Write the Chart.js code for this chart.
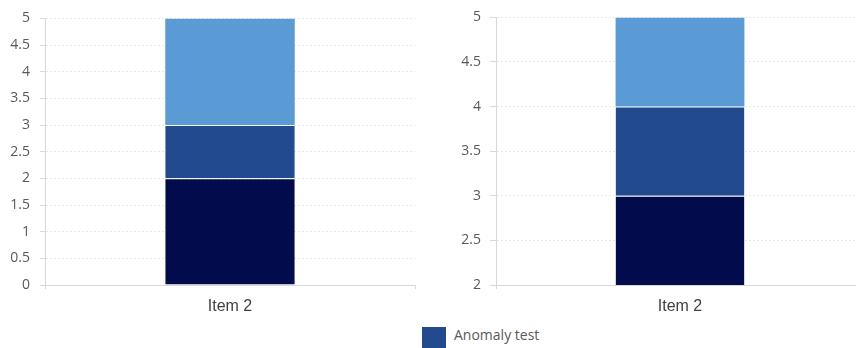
<!DOCTYPE html>
<html>
<head>
<meta charset="utf-8">
<script src="https://cdn.jsdelivr.net/npm/chart.js@4.4.1/dist/chart.umd.min.js"></script>
<style>
    html, body { margin: 0; padding: 0; background: #fff; overflow: hidden; }
    #wrap { position: relative; width: 856px; height: 348px; overflow: hidden; }
    #leftChart { position: absolute; left: 0; top: 0; }
    #rightChart { position: absolute; left: 430px; top: 0; }
    #legend { position: absolute; left: 422px; top: 327px; font-family: 'Open Sans', sans-serif; font-size: 14px; color: #595959; line-height: 14px; }
    #legend .swatch { position: absolute; left: 0; top: 0; width: 24px; height: 22px; }
    #legend .text { position: absolute; left: 32px; top: 1px; white-space: nowrap; }
</style>
</head>
<body>
<div id="wrap">
    <canvas id="leftChart" width="430" height="320"></canvas>
    <canvas id="rightChart" width="434" height="320"></canvas>
    <div id="legend"><div class="swatch"></div><div class="text"></div></div>
</div>
<script>
const categories = ['Item 2'];
const seriesLabels = ['', 'Anomaly test', ''];
const seriesColors = ['#020b4b', '#224b8f', '#5b9bd5'];
const leftValues = [2, 1, 2];
const rightValues = [3, 1, 1];
const leftTicks = [0, 0.5, 1, 1.5, 2, 2.5, 3, 3.5, 4, 4.5, 5];
const rightTicks = [2, 2.5, 3, 3.5, 4, 4.5, 5];
const legendIndex = 1;

(function () {
    let selector = {
        leftChart: document.getElementById('leftChart'),
        rightChart: document.getElementById('rightChart'),
        legend: document.getElementById('legend'),
    }

    function Datasets(values) {
        return values.map(function (v, i) {
            // white divider only between segments, not on top of the stack
            let top = i < values.length - 1 ? 1 : 0;
            return {
                label: seriesLabels[i],
                data: [v],
                backgroundColor: seriesColors[i],
                borderColor: 'rgba(255,255,255,0.75)',
                borderWidth: { top: top, left: 0, right: 0, bottom: 0 },
                borderSkipped: false,
                barPercentage: 0.35,
                categoryPercentage: 1,
            };
        });
    }

    function StackedChart(canvas, values, ticks, axisWidth, tickLength, tickPadding, rightPad) {
        return new Chart(canvas.getContext('2d'), {
            type: 'bar',
            data: {
                labels: categories,
                datasets: Datasets(values)
            },
            options: {
                responsive: false,
                animation: false,
                layout: { padding: { top: 16, right: rightPad, bottom: 0, left: 0 } },
                plugins: { legend: { display: false }, tooltip: { enabled: false } },
                scales: {
                    x: {
                        stacked: true,
                        grid: { display: true, drawOnChartArea: false, offset: true, tickLength: 4, tickColor: '#d9d9d9' },
                        border: { display: true, color: '#d9d9d9' },
                        ticks: { padding: 8, color: '#404040', font: { family: 'Liberation Sans', size: 16 } },
                        afterFit: function (s) { s.height = 320 - 285; }
                    },
                    y: {
                        stacked: true,
                        min: ticks[0],
                        max: ticks[ticks.length - 1],
                        grid: { color: '#e8e8e8', tickColor: '#d9d9d9', tickLength: tickLength, tickBorderDash: [] },
                        border: { display: true, color: '#d9d9d9', dash: [2, 2] },
                        ticks: {
                            padding: tickPadding,
                            color: '#595959',
                            font: { family: 'Open Sans', size: 14 },
                            callback: function (v) { return String(v); }
                        },
                        afterBuildTicks: function (axis) {
                            axis.ticks = ticks.map(function (t) { return { value: t }; });
                        },
                        afterFit: function (s) { s.width = axisWidth; }
                    }
                }
            }
        });
    }

    function Legend() {
        selector.legend.querySelector('.swatch').style.background = seriesColors[legendIndex];
        selector.legend.querySelector('.text').textContent = seriesLabels[legendIndex];
    }

    window.onload = function () {
        StackedChart(selector.leftChart, leftValues, leftTicks, 45, 5, 10, 15);
        StackedChart(selector.rightChart, rightValues, rightTicks, 66, 6, 9, 0);
        Legend();
    }

})();
</script>
</body>
</html>
